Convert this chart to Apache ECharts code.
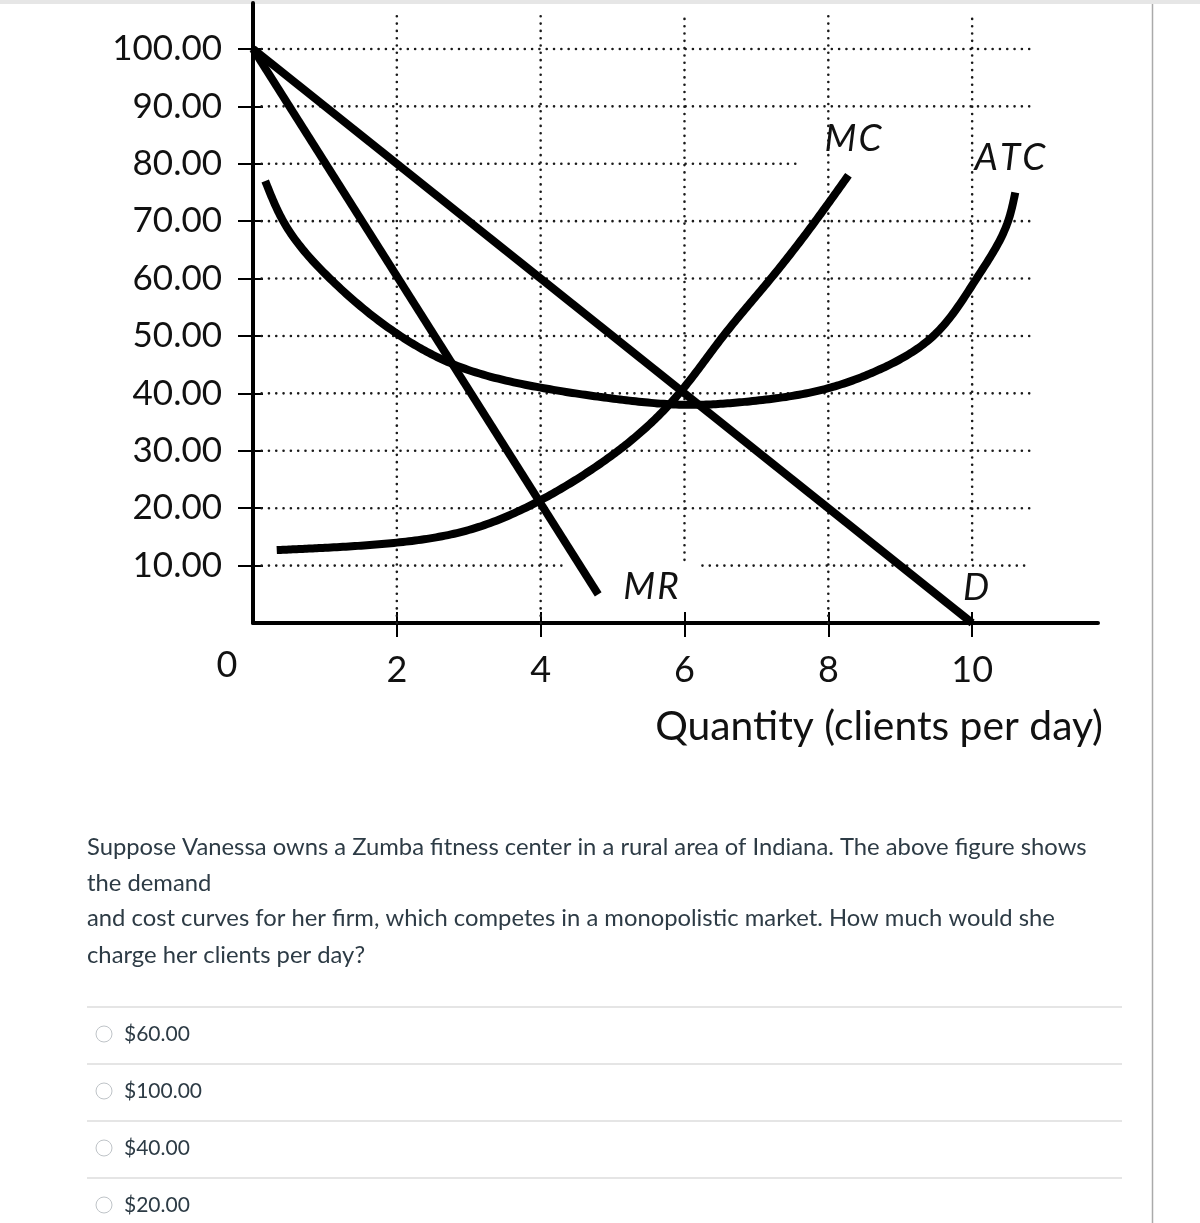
<!DOCTYPE html>
<html>
<head>
<meta charset="utf-8">
<script src="https://cdn.jsdelivr.net/npm/echarts@6/dist/echarts.min.js"></script>
<style>
html,body{margin:0;padding:0;background:#fff;}
#chart{width:1200px;height:1223px;}
</style>
</head>
<body>
<div id="chart"></div>
<script>
// ---- data ----
const qTicks = [2, 4, 6, 8, 10];
const pTicks = [10, 20, 30, 40, 50, 60, 70, 80, 90, 100];
const demandQ = [0, 10];
const demandP = [100, 0];
const mrQ = [0, 4.8];
const mrP = [100, 5];
const mcQ = [0.33, 1, 2, 3, 4, 4.8, 5.4, 5.94, 6.54, 7.2, 7.82, 8.28];
const mcP = [12.7, 13.1, 14.0, 16.2, 21.4, 27.5, 33.3, 40.2, 50, 60, 70, 78];
const atcQ = [0.17, 0.42, 1.07, 2.05, 2.74, 4, 5.06, 6.1, 6.9, 8, 8.72, 9.46, 10.06, 10.5, 10.6];
const atcP = [77, 70, 60, 50, 45.3, 41, 39, 38, 38.6, 40.9, 44.2, 50, 60, 70, 75];
const curveLabels = ['MC', 'ATC', 'MR', 'D'];
const xTitle = 'Quantity (clients per day)';
const questionLines = [
  'Suppose Vanessa owns a Zumba fitness center in a rural area of Indiana. The above figure shows',
  'the demand',
  'and cost curves for her firm, which competes in a monopolistic market. How much would she',
  'charge her clients per day?'
];
const answerOptions = ['$60.00', '$100.00', '$40.00', '$20.00'];

// ---- build ----
const pairs = (xs, ys) => xs.map((x, i) => [x, ys[i]]);
const FONT = 'Lato, "Open Sans", sans-serif';
const dotStyle = { color: '#1a1a1a', width: 2.6, type: [0.01, 7.3], cap: 'round' };

function gridSeries(data) {
  return { type: 'line', data: data, symbol: 'none', silent: true, z: 1,
           lineStyle: dotStyle, animation: false };
}
const gridLines = [];
pTicks.forEach(p => {
  if (p === 80) gridLines.push(gridSeries([[0.12, p], [7.6, p]]));
  else if (p === 10) {
    gridLines.push(gridSeries([[0.12, p], [4.37, p]]));
    gridLines.push(gridSeries([[6.25, p], [10.8, p]]));
  } else gridLines.push(gridSeries([[0.12, p], [10.8, p]]));
});
qTicks.forEach(q => {
  const low = (q === 6 || q === 10) ? 11 : 0;
  gridLines.push(gridSeries([[q, low], [q, 106]]));
});

// natural cubic spline helper (used only to draw a smooth stroke through the data points)
function natural(t, v) {
  const n = t.length - 1, h = [], a = [], l = [1], mu = [0], z = [0], c = new Array(n + 1).fill(0), b = [], d = [];
  for (let i = 0; i < n; i++) h[i] = t[i + 1] - t[i];
  for (let i = 1; i < n; i++) a[i] = 3 / h[i] * (v[i + 1] - v[i]) - 3 / h[i - 1] * (v[i] - v[i - 1]);
  for (let i = 1; i < n; i++) {
    l[i] = 2 * (t[i + 1] - t[i - 1]) - h[i - 1] * mu[i - 1];
    mu[i] = h[i] / l[i];
    z[i] = (a[i] - h[i - 1] * z[i - 1]) / l[i];
  }
  for (let j = n - 1; j >= 0; j--) {
    c[j] = (j === 0 ? 0 : z[j]) - mu[j] * c[j + 1];
    b[j] = (v[j + 1] - v[j]) / h[j] - h[j] * (c[j + 1] + 2 * c[j]) / 3;
    d[j] = (c[j + 1] - c[j]) / (3 * h[j]);
  }
  return (j, s) => v[j] + b[j] * s + c[j] * s * s + d[j] * s * s * s;
}

function splineSeries(name, pts) {
  return {
    name: name, type: 'custom', data: pts, z: 3, silent: true,
    encode: { x: 0, y: 1 },
    renderItem: function (params, api) {
      if (params.dataIndex !== 0) return null;
      const c = pts.map(p => api.coord(p));
      const t = [0];
      for (let i = 1; i < c.length; i++) t.push(t[i - 1] + Math.hypot(c[i][0] - c[i - 1][0], c[i][1] - c[i - 1][1]));
      const fx = natural(t, c.map(p => p[0]));
      const fy = natural(t, c.map(p => p[1]));
      const out = [c[0]];
      const N = 24;
      for (let i = 0; i < c.length - 1; i++) {
        const h = t[i + 1] - t[i];
        for (let k = 1; k <= N; k++) {
          const s = h * k / N;
          out.push([fx(i, s), fy(i, s)]);
        }
      }
      return { type: 'polyline', shape: { points: out },
               style: { stroke: '#000', lineWidth: 8, fill: null, lineJoin: 'round' } };
    }
  };
}

const curveStyle = { color: '#000', width: 8 };
const curves = [
  { name: 'D', type: 'line', data: pairs(demandQ, demandP), symbol: 'none', z: 3, lineStyle: curveStyle },
  { name: 'MR', type: 'line', data: pairs(mrQ, mrP), symbol: 'none', z: 3, lineStyle: curveStyle },
  splineSeries('MC', pairs(mcQ, mcP)),
  splineSeries('ATC', pairs(atcQ, atcP))
];

const labelFont = { fontSize: 36, fontFamily: FONT, fill: '#111' };
const curveLabelPos = { MC: [853, 139], ATC: [1010, 158], MR: [651, 587], D: [976, 588] };
const spaced = t => t.split('').join('\u200A');

const graphics = [
  { type: 'rect', shape: { x: 0, y: 0, width: 1200, height: 4 }, style: { fill: '#e6e6e6' } },
  { type: 'line', shape: { x1: 1152.5, y1: 4, x2: 1152.5, y2: 1223 }, style: { stroke: '#aaaaaa', lineWidth: 1.5 } },
  { type: 'text', x: 227, y: 665, style: Object.assign({ text: '0', align: 'center', verticalAlign: 'middle' }, labelFont) },
  { type: 'text', x: 1103, y: 727, style: { text: xTitle, align: 'right', verticalAlign: 'middle',
      fontSize: 40.8, fontFamily: FONT, fill: '#111' } }
];
curveLabels.forEach(t => {
  const p = curveLabelPos[t];
  graphics.push({ type: 'text', x: p[0], y: p[1], z: 10,
    style: { text: spaced(t), align: 'center', verticalAlign: 'middle', fontSize: 37, fontStyle: 'italic',
             fontWeight: 'normal', fontFamily: FONT, fill: '#111' } });
});
const qY = [847, 883, 918, 955];
questionLines.forEach((t, i) => {
  graphics.push({ type: 'text', x: 87, y: qY[i],
    style: { text: t, align: 'left', verticalAlign: 'middle', fontSize: 23.8, fontFamily: FONT, fill: '#2d3b45' } });
});
const sepY = [1007, 1064, 1121, 1178];
answerOptions.forEach((t, i) => {
  const y0 = sepY[i];
  const cy = y0 + 27;
  graphics.push({ type: 'line', shape: { x1: 87, y1: y0, x2: 1122, y2: y0 }, style: { stroke: '#dddddd', lineWidth: 1.5 } });
  graphics.push({ type: 'circle', shape: { cx: 104, cy: cy, r: 8 }, style: { fill: '#fff', stroke: '#bfc4c8', lineWidth: 1 } });
  graphics.push({ type: 'text', x: 124, y: cy,
    style: { text: t, align: 'left', verticalAlign: 'middle', fontSize: 21, fontFamily: FONT, fill: '#2d3b45' } });
});

const chart = echarts.init(document.getElementById('chart'), null, { renderer: 'canvas' });
chart.setOption({
  animation: false,
  backgroundColor: '#fff',
  grid: { left: 253, right: 102, top: 3, bottom: 600, containLabel: false, outerBoundsMode: 'none' },
  xAxis: [
    { type: 'value', min: 0, max: 11.75, position: 'bottom',
      axisLine: { onZero: false, lineStyle: { color: '#000', width: 4 } },
      axisTick: { customValues: qTicks, inside: false, length: 14, lineStyle: { color: '#000', width: 2 } },
      axisLabel: { customValues: qTicks, fontSize: 36, fontFamily: FONT, color: '#111', margin: 29 },
      splitLine: { show: false } },
    { type: 'value', min: 0, max: 11.75, position: 'bottom',
      axisLine: { show: false, onZero: false },
      axisTick: { customValues: qTicks, inside: true, length: 11, lineStyle: { color: '#000', width: 2 } },
      axisLabel: { show: false }, splitLine: { show: false } }
  ],
  yAxis: [
    { type: 'value', min: 0, max: 108, position: 'left',
      axisLine: { onZero: false, lineStyle: { color: '#000', width: 4 } },
      axisTick: { customValues: pTicks, inside: false, length: 15, lineStyle: { color: '#000', width: 2 } },
      axisLabel: { customValues: pTicks, formatter: v => v.toFixed(2), fontSize: 35, fontFamily: FONT, color: '#111', margin: 31 },
      splitLine: { show: false } },
    { type: 'value', min: 0, max: 108, position: 'left',
      axisLine: { show: false, onZero: false },
      axisTick: { customValues: pTicks, inside: true, length: 10, lineStyle: { color: '#000', width: 2 } },
      axisLabel: { show: false }, splitLine: { show: false } }
  ],
  series: gridLines.concat(curves),
  graphic: graphics
});
</script>
</body>
</html>
